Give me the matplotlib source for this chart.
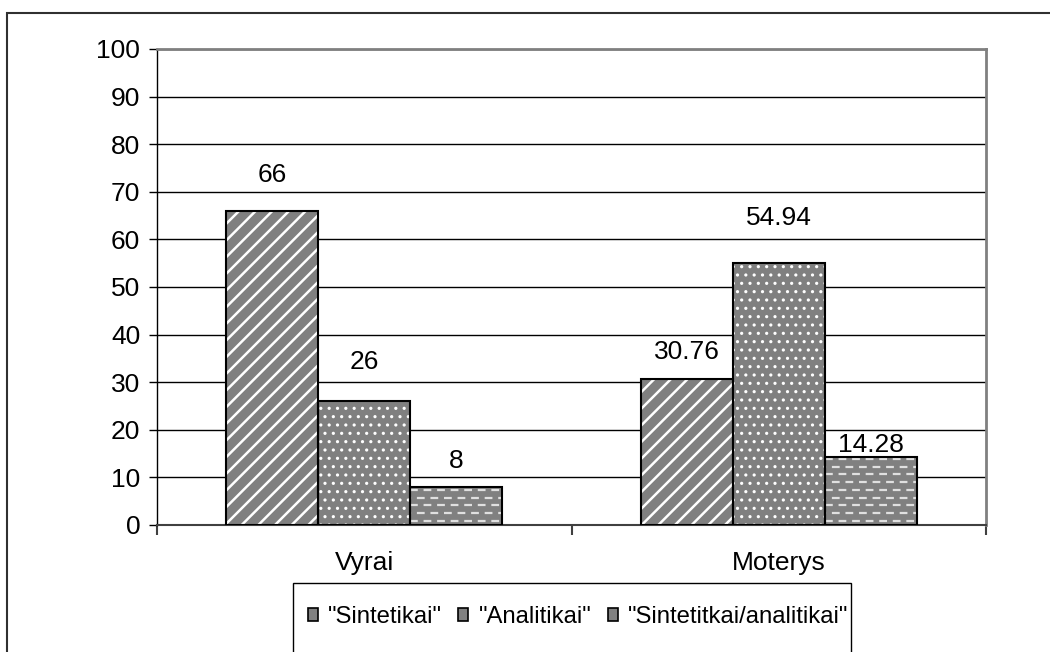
import numpy as np
import matplotlib.pyplot as plt
from matplotlib.patches import Rectangle, Patch

plt.rcParams['font.family'] = ['Liberation Sans', 'DejaVu Sans']

categories = ["Vyrai", "Moterys"]
series_names = ['"Sintetikai"', '"Analitikai"', '"Sintetitkai/analitikai"']
sintetikai = [66, 30.76]
analitikai = [26, 54.94]
mixed = [8, 14.28]
value_labels = [["66", "30.76"], ["26", "54.94"], ["8", "14.28"]]
y_ticks = [0, 10, 20, 30, 40, 50, 60, 70, 80, 90, 100]

series = [sintetikai, analitikai, mixed]
hatches = ["//", "..", None]
hatch_lw = [1.8, 1.1, 1.0]
# label offsets above bar top, in points
label_offsets = [[26, 19], [28, 33], [19, 9]]

fig = plt.figure(figsize=(10.5, 6.52), dpi=100)
ax = fig.add_axes([157 / 1050, 127 / 652, 829 / 1050, 476 / 652])

x = np.arange(len(categories))
width = 0.222
gray = "#808080"
fs = 19

for i, vals in enumerate(series):
    pos = x + (i - 1) * width
    plt.rcParams['hatch.linewidth'] = hatch_lw[i]
    fill = ax.bar(pos, vals, width, color=gray, edgecolor="white",
                  hatch=hatches[i], linewidth=0, zorder=3)
    ax.bar(pos, vals, width, fill=False, edgecolor="black", linewidth=1.5, zorder=4)
    if hatches[i] is None:
        # dashed horizontal hatch, staggered rows
        for p in fill.patches:
            for k, yy in enumerate(np.arange(0.9, p.get_height(), 1.62)):
                ln, = ax.plot([p.get_x(), p.get_x() + p.get_width()], [yy, yy],
                              color="#e0e0e0", lw=1.6, ls=(3 * (k % 2), (3.5, 2.6)),
                              zorder=3.5)
                ln.set_clip_path(p)
    for j, v in enumerate(vals):
        ax.annotate(value_labels[i][j], (pos[j], v), xytext=(0, label_offsets[i][j]),
                    textcoords="offset points", ha="center", va="center", fontsize=fs)

ax.set_xlim(-0.5, 1.5)
ax.set_ylim(0, 100)
ax.set_yticks(y_ticks)
ax.set_yticklabels([str(t) for t in y_ticks], fontsize=fs)
ax.tick_params(axis="y", length=6, width=1, pad=6)
ax.yaxis.grid(True, color="black", lw=1)
ax.set_axisbelow(True)

ax.set_xticks([-0.5, 0.5, 1.5])
ax.set_xticklabels([])
ax.set_xticks(x, minor=True)
ax.set_xticklabels(categories, minor=True, fontsize=fs)
ax.tick_params(axis="x", which="major", length=7, width=1.5, color="#404040")
ax.tick_params(axis="x", which="minor", length=0, pad=19)

for s in ["top", "right"]:
    ax.spines[s].set_color(gray)
    ax.spines[s].set_linewidth(2)
ax.spines["left"].set_linewidth(1)
ax.spines["bottom"].set_linewidth(1.5)
ax.spines["bottom"].set_color("#404040")

# outer chart frame
fig.patches.append(Rectangle((7 / 1050, -0.1), 1.2, (652 - 13) / 652 + 0.1,
                             transform=fig.transFigure, fill=False,
                             edgecolor="#303030", lw=1.5))
# legend box
fig.patches.append(Rectangle((293 / 1050, -0.05), 558 / 1050, (652 - 583) / 652 + 0.05,
                             transform=fig.transFigure, fill=False,
                             edgecolor="black", lw=1))
handles = [Patch(facecolor=gray, edgecolor="black", lw=1.2) for _ in series_names]
fig.legend(handles, series_names, loc="center", bbox_to_anchor=(578 / 1050, 35 / 652),
           ncol=3, frameon=False, fontsize=17.2, handlelength=0.42, handleheight=0.42,
           handletextpad=0.42, columnspacing=0.7)

fig.savefig("out.png", dpi=100)
